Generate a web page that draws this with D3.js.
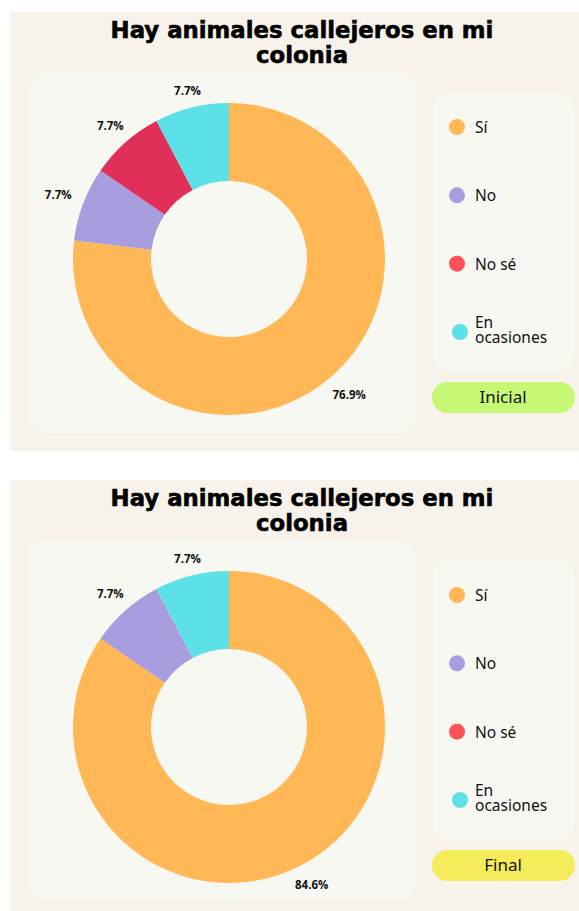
<!DOCTYPE html>
<html>
<head>
<meta charset="utf-8">
<script src="https://cdn.jsdelivr.net/npm/d3@7"></script>
<style>
  html, body { margin: 0; padding: 0; background: #fff; }
  svg { display: block; }
</style>
</head>
<body>
<svg width="579" height="911"></svg>
<script>
// survey data: same question, before (Inicial) and after (Final)
var categories = ["Sí", "No", "No sé", "En ocasiones"];
var inicialValues = [76.9, 7.7, 7.7, 7.7];
var finalValues = [84.6, 7.7, 0, 7.7];
var titleLines = ["Hay animales callejeros en mi", "colonia"];
var stages = ["Inicial", "Final"];

var sliceColors = ["#ffb855", "#a79ddf", "#e0305a", "#5ce1e6"];
var legendColors = ["#ffb855", "#a79ddf", "#ff5257", "#5ce1e6"];
var badgeColors = ["#c6f874", "#f4ec5a"];

var svg = d3.select("svg");

var pie = d3.pie().sort(null).value(function(d) { return d; });
var R = 156, r0 = 78;
var arc = d3.arc().innerRadius(r0).outerRadius(R);

function drawPanel(top, values, stage, badgeColor) {
    var g = svg.append("g").attr("transform", "translate(0," + top + ")");

    g.append("rect")
        .attr("x", 10).attr("y", 0)
        .attr("width", 569).attr("height", 439)
        .attr("fill", "#f7f3ea");

    g.selectAll(".title")
        .data(titleLines)
        .enter().append("text")
        .attr("class", "title")
        .attr("x", 302)
        .attr("y", function(d, i) { return 26 + i * 25; })
        .attr("text-anchor", "middle")
        .attr("font-family", "DejaVu Sans, sans-serif")
        .attr("font-weight", "bold")
        .attr("font-size", 22.8)
        .attr("stroke", "#000")
        .attr("stroke-width", 0.6)
        .attr("fill", "#000")
        .text(function(d) { return d; });

    // chart card
    g.append("rect")
        .attr("x", 28).attr("y", 60)
        .attr("width", 388).attr("height", 361)
        .attr("rx", 20)
        .attr("fill", "#f8f8f3");

    var cx = 229, cy = 247;
    var donut = g.append("g").attr("transform", "translate(" + cx + "," + cy + ")");
    var arcs = pie(values);

    donut.selectAll("path")
        .data(arcs)
        .enter().append("path")
        .attr("d", arc)
        .attr("fill", function(d, i) { return sliceColors[i]; });

    donut.selectAll(".lbl")
        .data(arcs.filter(function(d) { return d.data > 0; }))
        .enter().append("text")
        .attr("class", "lbl")
        .attr("font-family", "Open Sans, sans-serif")
        .attr("font-weight", "bold")
        .attr("font-size", 11.5)
        .attr("fill", "#111")
        .attr("text-anchor", "middle")
        .attr("dominant-baseline", "central")
        .text(function(d) { return d.data + "%"; })
        .each(function(d) {
            var w = this.getComputedTextLength();
            var a = (d.startAngle + d.endAngle) / 2;
            var rr = R + 14 + Math.abs(Math.sin(a)) * w / 2;
            d3.select(this)
                .attr("x", Math.sin(a) * rr)
                .attr("y", -Math.cos(a) * rr);
        });

    // legend card
    g.append("rect")
        .attr("x", 433).attr("y", 80)
        .attr("width", 141).attr("height", 280)
        .attr("rx", 18)
        .attr("fill", "#f8f8f3");

    var legendY = d3.scalePoint()
        .domain(categories)
        .range([115, 320]);

    var item = g.selectAll(".leg")
        .data(categories)
        .enter().append("g")
        .attr("class", "leg")
        .attr("transform", function(d) { return "translate(0," + legendY(d) + ")"; });

    item.append("circle")
        .attr("cx", function(d, i) { return i === 3 ? 460 : 457; })
        .attr("cy", 0)
        .attr("r", 8)
        .attr("fill", function(d, i) { return legendColors[i]; });

    item.each(function(d) {
        var words = d === "En ocasiones" ? d.split(" ") : [d];
        var t = d3.select(this).append("text")
            .attr("font-family", "Noto Sans, sans-serif")
            .attr("font-size", 15.5)
            .attr("fill", "#111");
        words.forEach(function(w, j) {
            t.append("tspan")
                .attr("x", 475)
                .attr("y", words.length > 1 ? -4 + j * 15 : 6)
                .text(w);
        });
    });

    // stage badge
    g.append("rect")
        .attr("x", 432).attr("y", 370)
        .attr("width", 143).attr("height", 31)
        .attr("rx", 15.5)
        .attr("fill", badgeColor);

    g.append("text")
        .attr("x", 503).attr("y", 391)
        .attr("text-anchor", "middle")
        .attr("font-family", "Noto Sans, sans-serif")
        .attr("font-size", 17)
        .attr("fill", "#111")
        .text(stage);
}

drawPanel(12, inicialValues, stages[0], badgeColors[0]);
drawPanel(480, finalValues, stages[1], badgeColors[1]);
</script>
</body>
</html>
